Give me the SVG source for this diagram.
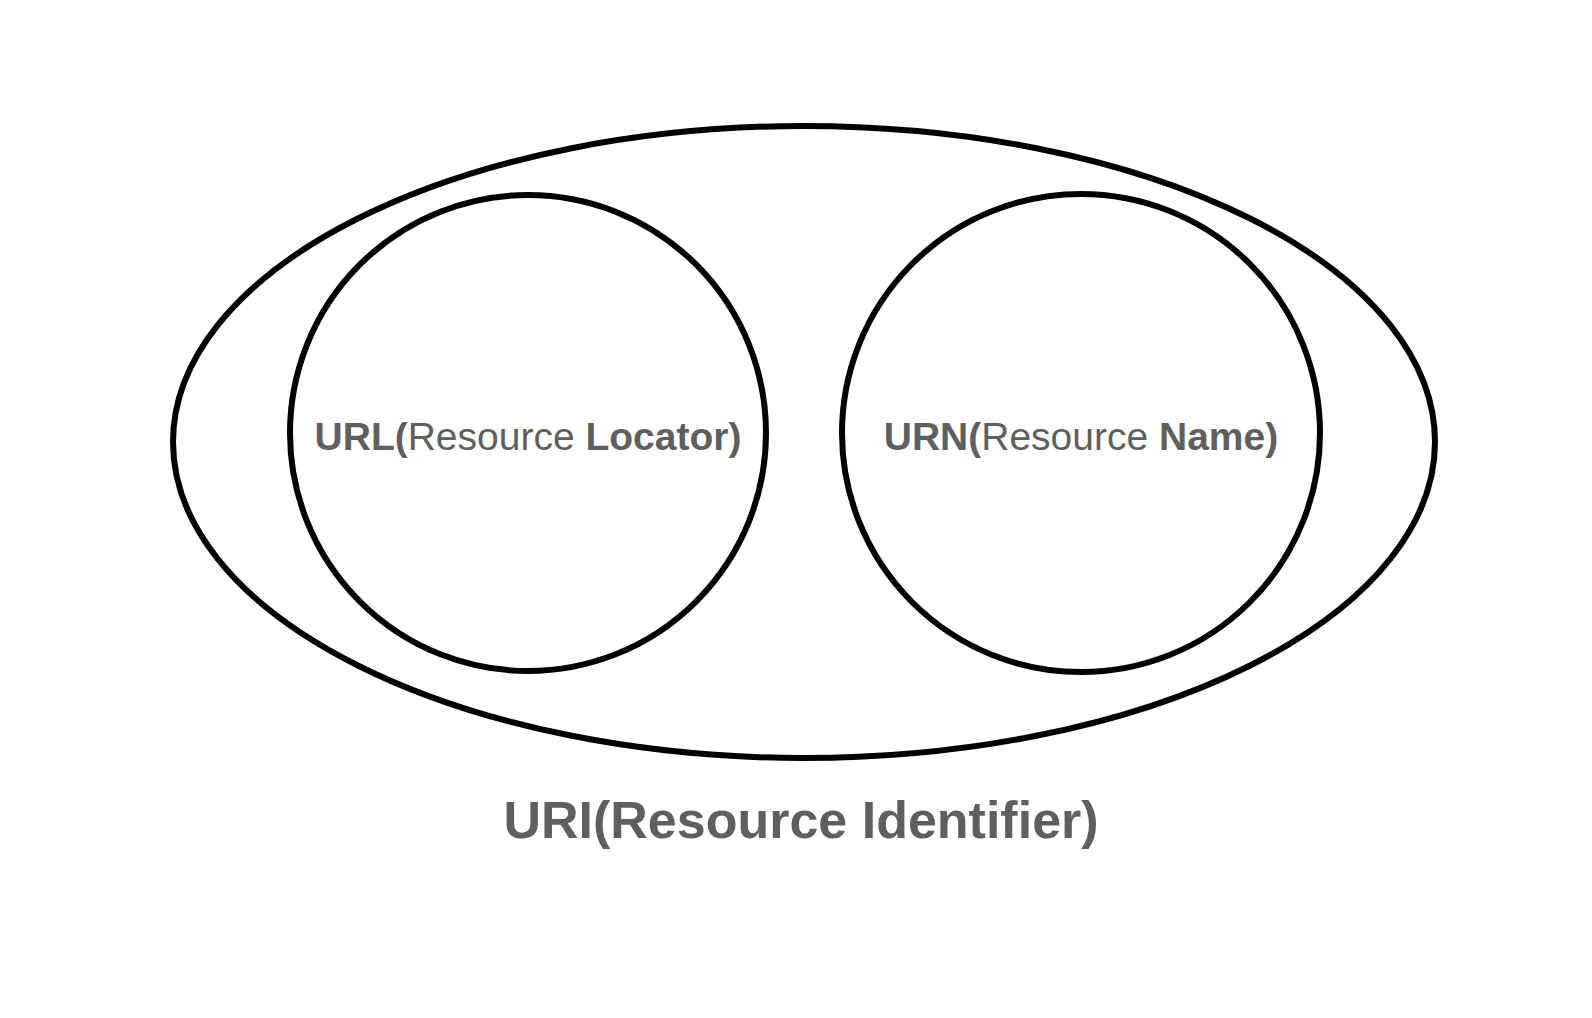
<svg xmlns="http://www.w3.org/2000/svg" width="1592" height="1018" viewBox="0 0 1592 1018">
  <style>
    .shape { fill: none; stroke: #000000; stroke-width: 6; }
    .lbl { font-family: "Liberation Sans", Arial, sans-serif; fill: #5f5f5f; text-anchor: middle; }
    .b { font-weight: bold; }
    .r { font-weight: normal; }
  </style>
  <rect x="0" y="0" width="1592" height="1018" fill="#ffffff"/>
  <g id="uri">
    <ellipse class="shape" cx="804" cy="442" rx="631" ry="316"/>
    <text class="lbl b" x="801" y="838" font-size="52">URI(Resource Identifier)</text>
  </g>
  <g id="url">
    <circle class="shape" cx="528" cy="433" r="238"/>
    <text class="lbl" x="528" y="450" font-size="39"><tspan class="b">URL(</tspan><tspan class="r">Resource </tspan><tspan class="b">Locator)</tspan></text>
  </g>
  <g id="urn">
    <circle class="shape" cx="1081" cy="433" r="239"/>
    <text class="lbl" x="1081" y="450" font-size="39"><tspan class="b">URN(</tspan><tspan class="r">Resource </tspan><tspan class="b">Name)</tspan></text>
  </g>
  <g id="connectors"></g>
</svg>
